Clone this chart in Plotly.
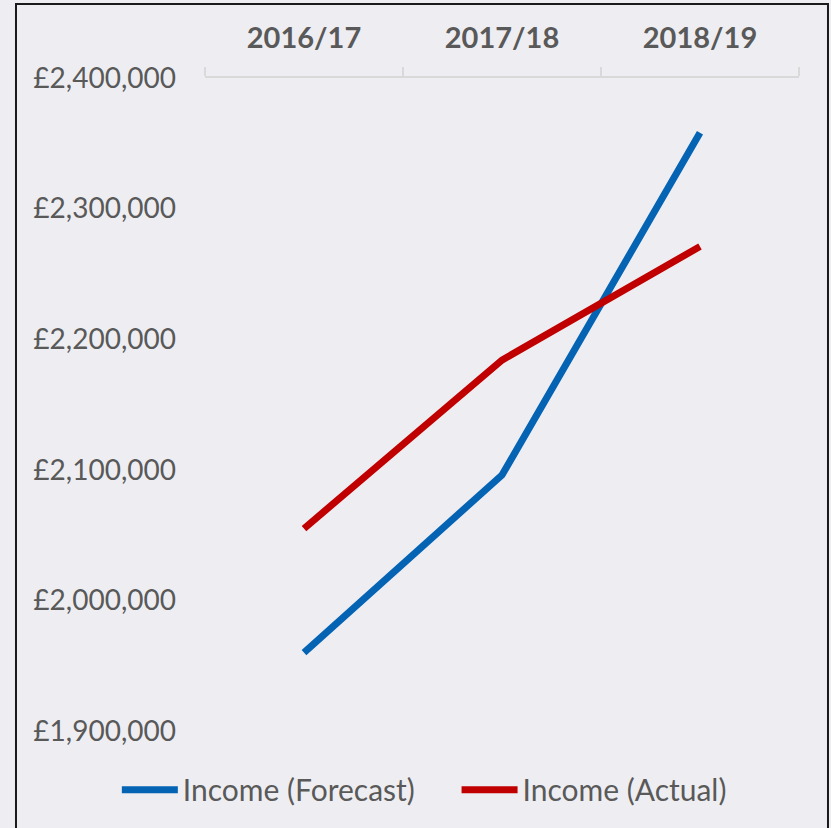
import plotly.graph_objects as go

years = ["2016/17", "2017/18", "2018/19"]
income_forecast = [1960000, 2096000, 2358000]
income_actual = [2055000, 2184000, 2271000]
y_ticks = [1900000, 2000000, 2100000, 2200000, 2300000, 2400000]
y_tick_labels = ["£1,900,000", "£2,000,000", "£2,100,000", "£2,200,000", "£2,300,000", "£2,400,000"]

BG = "#EEEEF2"
TXT = "#595959"
FONT = "Lato, 'Open Sans', sans-serif"

fig = go.Figure()
fig.add_trace(go.Scatter(x=years, y=income_forecast, name="Income (Forecast)", mode="lines",
                         line=dict(color="#0563B4", width=7), legend="legend"))
fig.add_trace(go.Scatter(x=years, y=income_actual, name="Income (Actual)", mode="lines",
                         line=dict(color="#C00000", width=7), legend="legend2"))

leg_common = dict(orientation="h", y=-0.09, yanchor="middle", xanchor="left",
                  font=dict(size=30, color=TXT), bgcolor="rgba(0,0,0,0)", itemwidth=56)

fig.update_layout(
    width=831, height=828,
    margin=dict(l=205, r=32, t=78, b=97, autoexpand=False),
    paper_bgcolor=BG, plot_bgcolor=BG,
    font=dict(family=FONT, color=TXT, size=28),
    showlegend=True,
    legend=dict(x=-0.1484, **leg_common),
    legend2=dict(x=0.4235, **leg_common),
    xaxis=dict(side="top", showline=True, linecolor="#D9D9D9", linewidth=2,
               ticks="outside", ticklen=9, tickcolor="#D9D9D9", tickwidth=2,
               tickson="boundaries", showgrid=False, zeroline=False, automargin=False,
               range=[-0.5, 2.5],
               tickfont=dict(family="Lato, sans-serif", size=29, color=TXT, weight="bold"),
               ticklabelstandoff=16),
    yaxis=dict(range=[1900000, 2400000], tickvals=y_ticks, ticktext=y_tick_labels,
               showgrid=False, zeroline=False, showline=False, ticks="", automargin=False,
               tickfont=dict(size=28, color=TXT), ticklabelstandoff=28),
    shapes=[dict(type="rect", xref="paper", yref="paper",
                 x0=-0.3182, x1=1.0488, y0=-0.16, y1=1.1133,
                 line=dict(color="#1A1A1A", width=2), fillcolor="rgba(0,0,0,0)", layer="above")],
)

fig.write_html("out.html", post_script="document.body.style.margin='0px';",
               config={"displayModeBar": False})
